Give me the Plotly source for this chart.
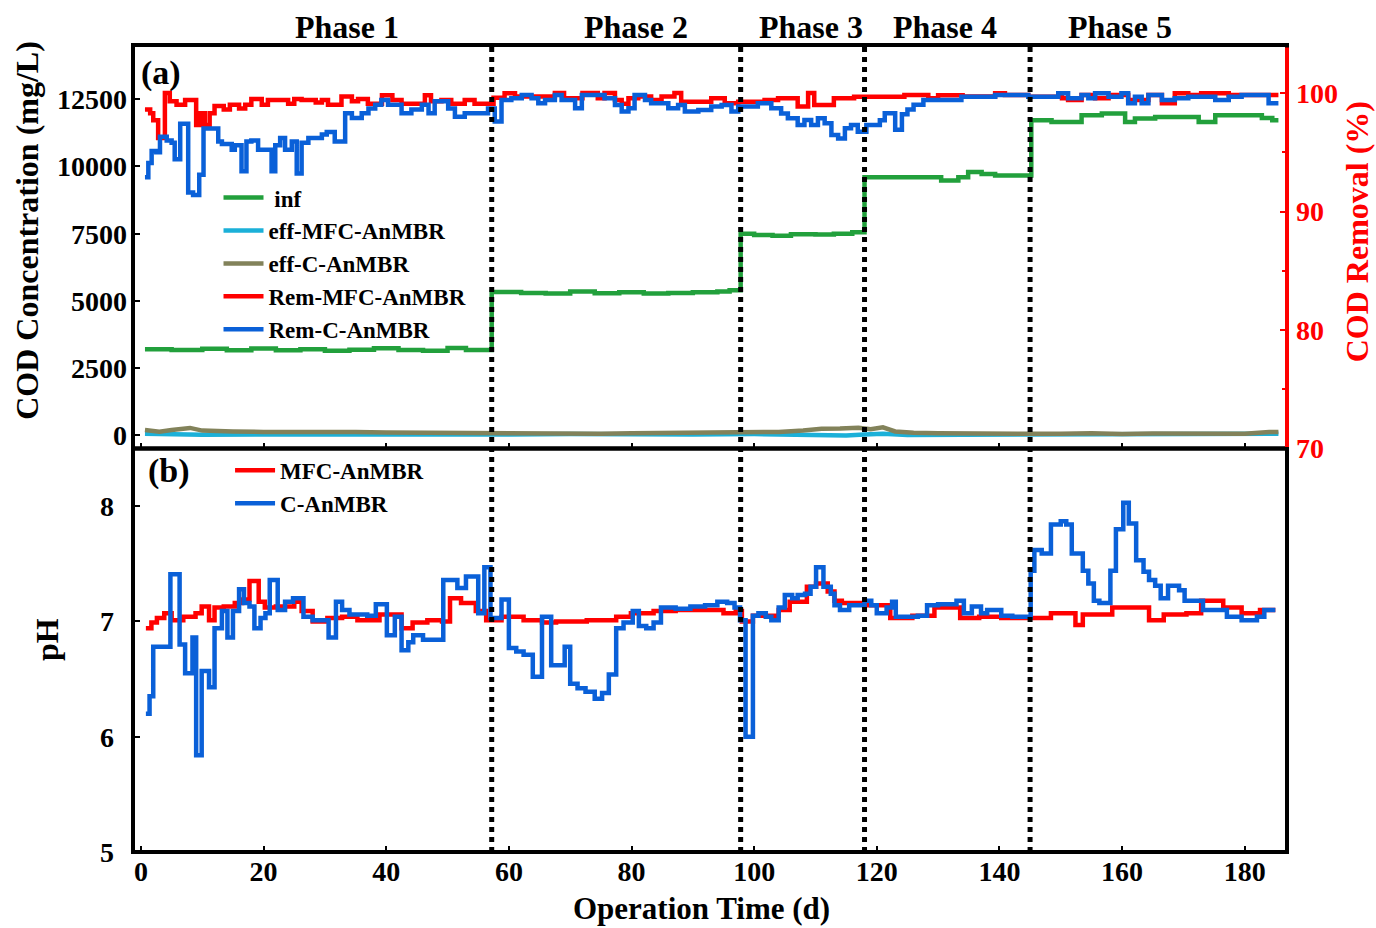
import plotly.graph_objects as go

# ---------------- data ----------------
# Influent COD (mg/L)
inf_day = [0.65, 5, 10, 14, 18, 22, 26, 30, 34, 38, 42, 46, 50, 53, 57.2,
           62, 66, 70, 74, 78, 82, 86, 90, 94, 96, 97.8,
           100, 103, 106, 110, 113, 116, 118,
           130.5, 133.3, 134.9, 137.1, 139.3, 145.2,
           148.5, 153.4, 156.7, 160.5, 162.1, 165.4, 172.5, 175.2, 179.5, 182.8, 184.5, 185.5]
inf_cod = [3200, 3180, 3220, 3170, 3230, 3170, 3200, 3150, 3190, 3240, 3180, 3150, 3250, 3180, 5330,
           5300, 5280, 5350, 5290, 5320, 5280, 5300, 5320, 5350, 5400, 7500,
           7450, 7420, 7480, 7470, 7500, 7550, 9600,
           9480, 9600, 9790, 9720, 9660, 11715,
           11650, 11900, 11965, 11650, 11780, 11840, 11650, 11900, 11900, 11800, 11715, 11715]

# Effluent COD (mg/L)
effmfc_day = [0.65, 5, 10, 20, 30, 40, 50, 60, 70, 80, 90, 100, 105, 110, 115, 118, 121, 125,
              130, 140, 150, 160, 170, 180, 185.5]
effmfc_cod = [60, 40, 30, 40, 30, 20, 30, 40, 50, 30, 40, 50, 40, 10, 0, 40, 60, 20,
              20, 20, 30, 30, 20, 40, 60]
effc_day = [0.65, 3, 5, 8, 10, 12, 15, 20, 25, 30, 35, 40, 45, 50, 55, 60, 65, 70, 75, 80, 85, 90,
            95, 100, 104, 108, 111, 114, 117, 119, 121, 123, 126, 130, 135, 140, 145, 150, 155,
            160, 165, 170, 175, 180, 184, 185.5]
effc_cod = [200, 140, 200, 280, 180, 160, 150, 130, 140, 150, 130, 110, 100, 90, 100, 110, 70, 60,
            60, 80, 90, 100, 100, 110, 130, 180, 250, 260, 290, 230, 300, 150, 100, 80, 70, 70, 70,
            60, 80, 50, 70, 80, 60, 60, 130, 130]

# COD removal (%)
remmfc_day = [0.65, 1.5, 2.0, 2.8, 3.9, 4.7, 5.8, 7.2, 9.0, 9.7, 10.4, 11.2, 12.0, 13.5, 14.5, 16.0,
              17.0, 18.0, 19.7, 20.7, 24.0, 25.0, 26.2, 28.5, 29.5, 30.5, 32.7, 34.4, 35.4, 37.0,
              39.3, 41.0, 42.5, 46.3, 47.3, 49.0, 50.6, 52.8, 54.4, 57.5, 59.3, 61, 67.5, 69, 72,
              74.5, 75.6, 77.3, 78.4, 79.5, 81.1, 83.2, 84.9, 87.0, 88.1, 93.0, 95.2, 97.4, 101.7,
              103.9, 107.1, 108.8, 109.8, 113.0, 116.3, 120.0, 124.5, 128.4, 130.0, 134.0, 139.3,
              140.9, 144.7, 150.2, 151.2, 153.4, 155.6, 157.8, 161.0, 164.3, 166.5, 168.6, 170.8,
              172.9, 177.4, 185.5]
remmfc_val = [98.6, 98.3, 97.7, 96.2, 100.0, 99.3, 99.0, 99.4, 97.3, 98.3, 97.3, 98.3, 98.9, 98.6,
              99.0, 98.7, 99.0, 99.5, 99.0, 99.4, 99.1, 99.5, 99.4, 99.2, 99.4, 99.0, 99.7, 99.3,
              99.5, 99.1, 99.8, 99.4, 99.1, 99.8, 99.3, 99.4, 99.1, 99.4, 99.1, 99.6, 99.97, 99.7,
              100.0, 99.55, 100.0, 99.55, 100.0, 99.4, 99.1, 99.55, 99.7, 99.4, 99.7, 100.0, 99.27,
              99.55, 99.13, 99.27, 99.41, 99.55, 98.85, 100.0, 98.99, 99.55, 99.69, 99.69, 99.83,
              99.55, 99.8, 99.7, 99.97, 99.83, 99.69, 99.55, 99.41, 99.83, 99.55, 99.83, 99.41,
              99.83, 99.13, 99.97, 99.83, 99.97, 99.83, 99.83]
remc_day = [0.65, 1.2, 1.74, 2.5, 3.1, 4.2, 5.0, 5.5, 6.4, 7.7, 8.5, 9.5, 10.2, 12.6, 13.2, 14.8,
            15.3, 16.4, 17.2, 18.0, 19.1, 21.3, 21.9, 22.7, 23.5, 24.6, 25.4, 26.2, 27.3, 29.5,
            30.3, 31.6, 33.3, 34.4, 36.0, 37.1, 38.2, 39.2, 40.3, 42.5, 44.1, 45.8, 46.9, 47.9,
            50.1, 51.2, 52.8, 56.6, 57.7, 58.8, 60.4, 62.1, 63.7, 64.8, 65.9, 67.5, 68.6, 70.8,
            71.9, 75.6, 77.3, 78.4, 79.5, 80.5, 82.2, 83.2, 86.0, 87.6, 88.7, 90.9, 93.0, 94.7,
            96.3, 97.4, 100.6, 102.8, 104.4, 105.5, 107.1, 108.2, 109.3, 110.4, 111.5, 112.6,
            113.7, 114.8, 115.8, 116.9, 118.3, 120.5, 121.3, 123.0, 124.1, 125.0, 126.0, 127.6,
            133.8, 139.3, 144.7, 149.6, 151.2, 153.4, 154.5, 155.6, 157.8, 159.9, 161.0, 162.1,
            163.2, 164.3, 166.5, 168.6, 170.8, 175.2, 177.4, 179.5, 183.9, 185.5]
remc_val = [92.9, 94.1, 95.1, 95.0, 96.3, 96.0, 95.8, 94.4, 97.4, 91.6, 91.4, 93.1, 97.0, 95.9,
            95.7, 95.2, 95.6, 93.4, 95.9, 96.0, 95.2, 93.4, 95.6, 96.2, 95.2, 95.9, 93.2, 95.8,
            96.2, 96.5, 96.7, 95.9, 98.3, 97.9, 98.3, 98.7, 99.0, 99.4, 99.0, 98.3, 98.6, 99.0,
            98.3, 99.3, 98.7, 98.0, 98.3, 98.7, 97.6, 99.41, 99.55, 99.83, 99.55, 99.13, 99.41,
            99.83, 99.41, 98.71, 99.83, 99.55, 98.99, 98.43, 98.71, 99.83, 99.41, 99.13, 98.71,
            98.99, 98.43, 98.57, 98.85, 98.99, 98.43, 98.85, 99.13, 98.71, 98.28, 97.86, 97.3,
            97.72, 97.3, 97.86, 97.44, 96.46, 96.17, 97.02, 97.3, 96.74, 97.3, 97.7, 98.3, 96.9,
            98.2, 98.6, 99.0, 99.4, 99.69, 99.83, 99.69, 99.97, 99.55, 99.83, 99.55, 99.97, 99.69,
            99.97, 99.13, 99.69, 99.13, 99.83, 99.41, 99.55, 99.69, 99.41, 99.69, 99.83, 99.13,
            99.13]

# pH
ph_mfc_day = [0.8, 1.7, 2.6, 3.8, 5.0, 6.9, 8.9, 9.9, 11.1, 12.0, 13.5, 15.3, 16.5, 17.7, 19.2,
              20.2, 22.0, 25.0, 26.2, 28.0, 30.4, 32.8, 35.3, 38.9, 42.5, 44.3, 46.7, 49.1, 50.4,
              52.2, 54.6, 56.3, 58.8, 62.4, 65.4, 67.7, 72.7, 77.5, 79.9, 83.6, 87.2, 92, 95, 97,
              98, 99.8, 104, 105.8, 108.6, 110.1, 112.0, 113.1, 114.3, 118.0, 122.2, 125.8, 129.4,
              133.6, 136.7, 140.3, 148.4, 152.4, 153.6, 158.4, 164.4, 166.8, 170.5, 172.9, 176.5,
              179.5, 182.5, 185.0]
ph_mfc = [6.94, 6.99, 7.03, 7.07, 7.01, 7.04, 7.07, 7.13, 7.01, 7.12, 7.13, 7.16, 7.19, 7.35, 7.17,
          7.12, 7.13, 7.17, 7.09, 7.0, 7.03, 7.04, 7.01, 7.06, 6.94, 6.99, 7.01, 7.0, 7.2, 7.16,
          7.09, 7.01, 7.04, 7.01, 6.99, 7.0, 7.01, 7.04, 7.07, 7.09, 7.10, 7.10, 7.07, 7.09, 7.0,
          7.05, 7.10, 7.17, 7.30, 7.33, 7.26, 7.18, 7.16, 7.14, 7.03, 7.05, 7.12, 7.03, 7.04,
          7.03, 7.07, 6.97, 7.06, 7.12, 7.01, 7.06, 7.07, 7.18, 7.12, 7.07, 7.10, 7.10]
ph_c_day = [0.8, 1.4, 2.0, 4.8, 6.3, 7.2, 8.4, 9.0, 9.9, 11.1, 12.0, 13.2, 14.1, 15.0, 16.0, 16.8,
            17.7, 18.5, 19.5, 20.3, 21.0, 22.3, 23.5, 24.8, 26.5, 28.0, 30.6, 31.8, 32.8, 34.0,
            36.9, 38.3, 40.1, 41.4, 42.5, 43.6, 44.4, 46.0, 49.3, 51.6, 53.0, 55.0, 56.0, 57.0,
            58.8, 60.0, 61.2, 62.4, 63.9, 65.4, 66.9, 69.1, 70.0, 71.2, 72.5, 74.0, 75.2, 76.3,
            77.5, 78.7, 80.2, 81.2, 82.4, 83.6, 84.8, 87.2, 89.6, 92, 94, 95.6, 96.8, 97.7, 98.6,
            99.8, 100.7, 101.9, 102.8, 104.0, 105.0, 106.2, 107.1, 108.3, 109.2, 110.1, 111.3,
            112.5, 113.1, 114.0, 115.5, 118.0, 119.1, 120.0, 121.6, 122.5, 123.1, 126.7, 128.2,
            130.0, 133.0, 134.2, 135.5, 137.0, 138.0, 140.3, 142.1, 145.1, 145.7, 146.9, 148.4,
            150.0, 150.9, 151.8, 153.6, 154.5, 155.4, 156.3, 158.1, 159.0, 160.2, 161.1, 162.3,
            163.5, 164.4, 165.4, 166.3, 167.5, 169.3, 170.2, 173.2, 177.1, 179.5, 182.0, 183.2,
            185.0]
ph_c = [6.20, 6.35, 6.78, 7.41, 6.80, 6.55, 6.86, 5.84, 6.57, 6.43, 6.94, 7.09, 6.86, 7.09, 7.28,
        7.16, 7.13, 6.94, 7.03, 7.07, 7.36, 7.10, 7.17, 7.20, 7.04, 7.01, 6.86, 7.17, 7.10, 7.06,
        7.05, 7.15, 6.88, 7.04, 6.75, 6.82, 6.88, 6.84, 7.36, 7.29, 7.39, 7.07, 7.47, 7.03, 7.19,
        6.77, 6.74, 6.71, 6.52, 7.04, 6.62, 6.78, 6.46, 6.42, 6.39, 6.33, 6.38, 6.54, 6.94, 6.99,
        7.09, 6.96, 6.94, 6.99, 7.12, 7.11, 7.13, 7.14, 7.17, 7.16, 7.12, 7.01, 6.0, 7.05, 7.07,
        7.04, 7.01, 7.12, 7.23, 7.2, 7.23, 7.24, 7.3, 7.47, 7.3, 7.24, 7.14, 7.10, 7.14, 7.18,
        7.14, 7.07, 7.12, 7.17, 7.04, 7.05, 7.14, 7.15, 7.18, 7.07, 7.13, 7.07, 7.10, 7.05, 7.04,
        7.44, 7.62, 7.59, 7.84, 7.87, 7.84, 7.59, 7.44, 7.33, 7.18, 7.16, 7.44, 7.80, 8.03, 7.85,
        7.53, 7.43, 7.36, 7.31, 7.20, 7.31, 7.27, 7.18, 7.10, 7.04, 7.01, 7.04, 7.10, 7.10]

phase_bounds = [57.2, 97.8, 118, 145]
phase_names = ["Phase 1", "Phase 2", "Phase 3", "Phase 4", "Phase 5"]
phase_centers = [33.6, 80.7, 109.2, 131.2, 159.6]

cod_ticks = [0, 2500, 5000, 7500, 10000, 12500]
cod_ticktext = ["0", "2500", "5000", "7500", "10000", "12500"]
rem_ticks = [70, 80, 90, 100]
ph_ticks = [5, 6, 7, 8]
day_ticks = [0, 20, 40, 60, 80, 100, 120, 140, 160, 180]

# ---------------- style ----------------
FONT = "Liberation Serif"
RED = "#FF0000"
BLUE = "#0A60D8"
GREEN = "#22A03C"
CYAN = "#1BB0D8"
OLIVE = "#82825A"
LW = 4.5
TITLE_SIZE = 32
TICK_SIZE = 28
LEG_SIZE = 23

fig = go.Figure()

fig.add_trace(go.Scatter(x=inf_day, y=inf_cod, name=" inf", mode="lines", line=dict(color=GREEN, width=LW, shape="hv"),
                         xaxis="x", yaxis="y", legend="legend"))
fig.add_trace(go.Scatter(x=effmfc_day, y=effmfc_cod, name="eff-MFC-AnMBR", mode="lines", line=dict(color=CYAN, width=LW),
                         xaxis="x", yaxis="y", legend="legend"))
fig.add_trace(go.Scatter(x=effc_day, y=effc_cod, name="eff-C-AnMBR", mode="lines", line=dict(color=OLIVE, width=LW),
                         xaxis="x", yaxis="y", legend="legend"))
fig.add_trace(go.Scatter(x=remmfc_day, y=remmfc_val, name="Rem-MFC-AnMBR", mode="lines", line=dict(color=RED, width=LW, shape="hv"),
                         xaxis="x", yaxis="y2", legend="legend"))
fig.add_trace(go.Scatter(x=remc_day, y=remc_val, name="Rem-C-AnMBR", mode="lines", line=dict(color=BLUE, width=LW, shape="hv"),
                         xaxis="x", yaxis="y2", legend="legend"))
fig.add_trace(go.Scatter(x=ph_mfc_day, y=ph_mfc, name="MFC-AnMBR", mode="lines", line=dict(color=RED, width=LW, shape="hv"),
                         xaxis="x2", yaxis="y3", legend="legend2"))
fig.add_trace(go.Scatter(x=ph_c_day, y=ph_c, name="C-AnMBR", mode="lines", line=dict(color=BLUE, width=LW, shape="hv"),
                         xaxis="x2", yaxis="y3", legend="legend2"))

XR = [-1.3, 186.9]
tickfont = dict(family=FONT, size=TICK_SIZE, color="black", weight="bold")

shapes = []
for b in phase_bounds:
    shapes.append(dict(type="line", xref="x2", yref="paper", x0=b, x1=b, y0=0, y1=1,
                       line=dict(color="black", width=5, dash="5px,5px"), layer="above"))
shapes.append(dict(type="rect", xref="paper", yref="paper", x0=0, x1=1, y0=0.5, y1=1,
                   line=dict(color="black", width=4)))
shapes.append(dict(type="rect", xref="paper", yref="paper", x0=0, x1=1, y0=0, y1=0.5,
                   line=dict(color="black", width=4)))
shapes.append(dict(type="line", xref="paper", yref="paper", x0=1, x1=1, y0=0.502, y1=0.997,
                   line=dict(color=RED, width=4)))

annotations = []
for nm, c in zip(phase_names, phase_centers):
    annotations.append(dict(text=nm, x=c, xref="x2", y=1.0223, yref="paper", showarrow=False,
                            xanchor="center", yanchor="middle",
                            font=dict(family=FONT, size=TITLE_SIZE, color="black", weight="bold")))
annotations += [
    dict(text="(a)", x=0.005, y=0.965, xref="paper", yref="paper", showarrow=False, xanchor="left",
         yanchor="middle", font=dict(family=FONT, size=34, color="black", weight="bold")),
    dict(text="(b)", x=0.011, y=0.472, xref="paper", yref="paper", showarrow=False, xanchor="left",
         yanchor="middle", font=dict(family=FONT, size=34, color="black", weight="bold")),
    dict(text="COD Concentration (mg/L)", x=-0.0919, y=0.771, xref="paper", yref="paper", showarrow=False,
         textangle=-90, xanchor="center", yanchor="middle",
         font=dict(family=FONT, size=TITLE_SIZE, color="black", weight="bold")),
    dict(text="COD Removal (%)", x=1.0607, y=0.768, xref="paper", yref="paper", showarrow=False,
         textangle=-90, xanchor="center", yanchor="middle",
         font=dict(family=FONT, size=TITLE_SIZE, color=RED, weight="bold")),
    dict(text="pH", x=-0.0745, y=0.2627, xref="paper", yref="paper", showarrow=False,
         textangle=-90, xanchor="center", yanchor="middle",
         font=dict(family=FONT, size=TITLE_SIZE, color="black", weight="bold")),
    dict(text="Operation Time (d)", x=0.493, y=-0.0694, xref="paper", yref="paper", showarrow=False,
         xanchor="center", yanchor="middle",
         font=dict(family=FONT, size=31, color="black", weight="bold")),
]

fig.update_layout(
    width=1376, height=928,
    margin=dict(l=133, r=89, t=45, b=76),
    paper_bgcolor="white", plot_bgcolor="white",
    font=dict(family=FONT, color="black"),
    showlegend=True,
    xaxis=dict(domain=[0, 1], range=XR, anchor="y", showticklabels=False, tickvals=day_ticks,
               ticks="inside", ticklen=6, tickwidth=2, tickcolor="black", showgrid=False,
               zeroline=False, showline=False),
    xaxis2=dict(domain=[0, 1], range=XR, anchor="y3", tickvals=day_ticks, ticks="inside",
                ticklen=6, tickwidth=2, tickcolor="black", showgrid=False, zeroline=False,
                showline=False, tickfont=tickfont, ticklabelstandoff=0),
    yaxis=dict(domain=[0.5, 1], range=[-485, 14515], anchor="x", tickvals=cod_ticks,
               ticktext=cod_ticktext,
               ticks="inside", ticklen=7, tickwidth=2, tickcolor="black", showgrid=False,
               zeroline=False, showline=False, tickfont=tickfont, ticklabelstandoff=5),
    yaxis2=dict(range=[70, 104.05], overlaying="y", side="right", anchor="x", tickvals=rem_ticks,
                ticks="inside", ticklen=7, tickwidth=2, tickcolor=RED, showgrid=False,
                zeroline=False, showline=False,
                tickfont=dict(family=FONT, size=TICK_SIZE, color=RED, weight="bold"),
                minor=dict(dtick=5, ticks="inside", ticklen=5, tickwidth=2, tickcolor=RED),
                ticklabelstandoff=8),
    yaxis3=dict(domain=[0, 0.5], range=[5, 8.5], anchor="x2", tickvals=ph_ticks,
                ticks="inside", ticklen=7, tickwidth=2, tickcolor="black", showgrid=False,
                zeroline=False, showline=False, tickfont=tickfont, ticklabelstandoff=18),
    legend=dict(x=0.0741, y=0.8375, xanchor="left", yanchor="top", bgcolor="rgba(0,0,0,0)",
                font=dict(family=FONT, size=LEG_SIZE, color="black", weight="bold"),
                itemwidth=40, tracegroupgap=0),
    legend2=dict(x=0.0841, y=0.4995, xanchor="left", yanchor="top", bgcolor="rgba(0,0,0,0)",
                 font=dict(family=FONT, size=LEG_SIZE, color="black", weight="bold"),
                 itemwidth=40, tracegroupgap=0),
    shapes=shapes,
    annotations=annotations,
)

fig.write_html("out.html", config={"displayModeBar": False},
               post_script="document.body.style.margin='0';document.body.style.padding='0';")
